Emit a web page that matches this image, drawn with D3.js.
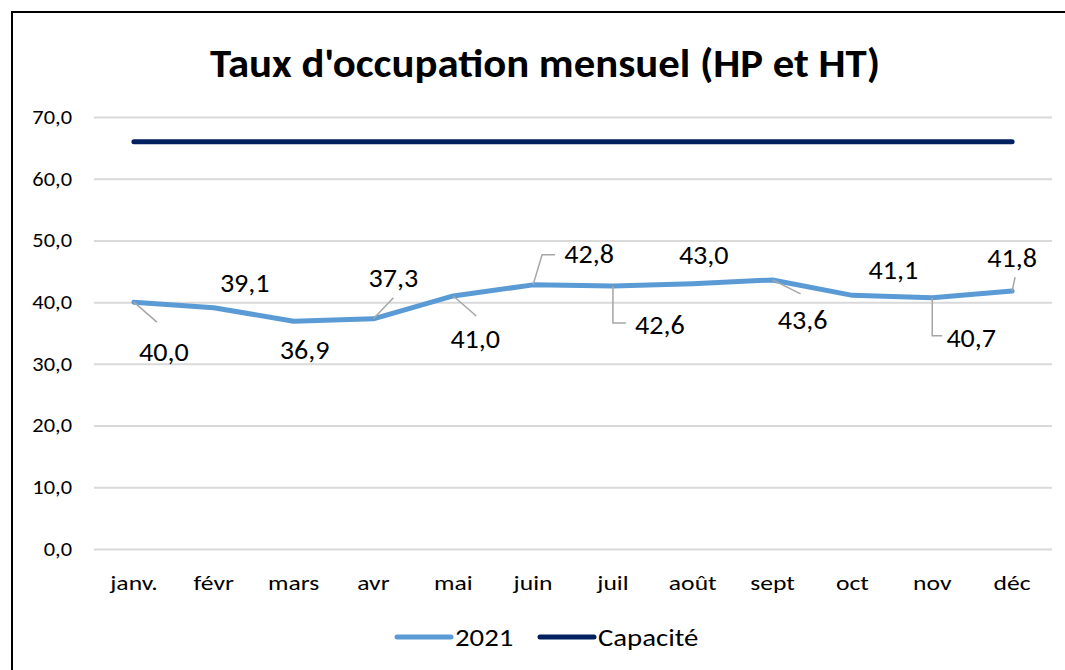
<!DOCTYPE html>
<html><head><meta charset="utf-8">
<script src="https://cdn.jsdelivr.net/npm/d3@7"></script>
<style>
body{margin:0;background:#fff;}
svg{display:block;font-family:Calibri,Carlito,Lato,sans-serif;}
</style></head>
<body><svg id="c" width="1065" height="670"></svg>
<script>
const months = ["janv.","févr","mars","avr","mai","juin","juil","août","sept","oct","nov","déc"];
const occ2021 = [40.0,39.1,36.9,37.3,41.0,42.8,42.6,43.0,43.6,41.1,40.7,41.8];
const capacite = [66,66,66,66,66,66,66,66,66,66,66,66];
const yTicks = [0,10,20,30,40,50,60,70];
const seriesNames = ["2021","Capacité"];
// label layout (offsets from point, pixels)
const labelOffsets = [[30,50],[31,-25],[11,29],[20,-41],[22,43],[56,-31],[47,39],[11,-29],[30,40],[41,-25],[39,40],[0,-33]];
const leaders = [[[0,0],[23,20]],null,null,[[0,0],[20,-21]],[[0,0],[23,20]],[[0,0],[9,-30],[22,-30]],[[0,0],[0,37],[13,37]],null,[[0,0],[28,14]],null,[[0,0],[0,38],[10,38]],[[0,0],[3,-14]]];

const FONT = "Calibri,Carlito,Lato,sans-serif";
const fmt = v => d3.format(".1f")(v).replace(".", ",");
function stretch(sel, k){
  sel.each(function(){
    const w = this.getComputedTextLength();
    d3.select(this).attr("textLength", w*k).attr("lengthAdjust","spacingAndGlyphs");
  });
}
const svg = d3.select("#c");
svg.append("rect").attr("x",12).attr("y",12).attr("width",1100).attr("height",700)
  .attr("fill","#fff").attr("stroke","#000").attr("stroke-width",2);

const title = svg.append("text").attr("x",545).attr("y",77).attr("text-anchor","middle")
  .attr("font-size",40).attr("font-weight","bold").attr("fill","#000")
  .text("Taux d'occupation mensuel (HP et HT)");
title.attr("textLength",670).attr("lengthAdjust","spacingAndGlyphs");

const x = d3.scaleBand().domain(months).range([94,1052]);
const y = d3.scaleLinear().domain([0,70]).range([549,117]);
const cx = m => x(m) + x.bandwidth()/2;

const gy = svg.append("g").attr("transform","translate(94,0)")
  .call(d3.axisLeft(y).tickValues(yTicks).tickSize(-958).tickFormat(fmt).tickPadding(22));
gy.select(".domain").remove();
gy.selectAll(".tick line").attr("stroke","#d9d9d9").attr("stroke-width",2);
gy.selectAll(".tick text").attr("font-size",20).attr("fill","#000").attr("font-family",FONT);
stretch(gy.selectAll(".tick text"), 1.12);

const gx = svg.append("g").attr("transform","translate(0,549)")
  .call(d3.axisBottom(x).tickSize(0).tickPadding(26));
gx.select(".domain").remove();
gx.selectAll(".tick text").attr("font-size",21).attr("fill","#000").attr("font-family",FONT);
stretch(gx.selectAll(".tick text"), 1.22);

const line = d3.line().x((d,i)=>cx(months[i])).y(d=>y(d));
svg.append("path").datum(capacite).attr("d",line).attr("fill","none")
  .attr("stroke","#002060").attr("stroke-width",5).attr("stroke-linecap","round");
svg.append("path").datum(occ2021).attr("d",line).attr("fill","none")
  .attr("stroke","#5b9bd5").attr("stroke-width",5).attr("stroke-linecap","round").attr("stroke-linejoin","round");

// leader lines
occ2021.forEach((v,i)=>{
  const L = leaders[i]; if(!L) return;
  const px = cx(months[i]), py = y(v);
  svg.append("path").attr("d", d3.line()(L.map(p=>[px+p[0],py+p[1]])))
    .attr("fill","none").attr("stroke","#a6a6a6").attr("stroke-width",1.5);
});
const labels = svg.append("g").selectAll("text").data(occ2021).join("text")
  .attr("x",(d,i)=>cx(months[i])+labelOffsets[i][0])
  .attr("y",(d,i)=>y(d)+labelOffsets[i][1])
  .attr("text-anchor","middle").attr("dominant-baseline","central")
  .attr("font-size",26).attr("fill","#000").text(d=>fmt(d));
stretch(labels, 1.08);

// legend
const legend = [{n:seriesNames[0],c:"#5b9bd5",x:397},{n:seriesNames[1],c:"#002060",x:540}];
legend.forEach(l=>{
  svg.append("line").attr("x1",l.x).attr("x2",l.x+54).attr("y1",637).attr("y2",637)
    .attr("stroke",l.c).attr("stroke-width",5).attr("stroke-linecap","round");
  const t = svg.append("text").attr("x",l.x+58).attr("y",637).attr("dominant-baseline","central")
    .attr("font-size",25).attr("fill","#000").text(l.n);
  stretch(t, 1.15);
});
</script></body></html>
